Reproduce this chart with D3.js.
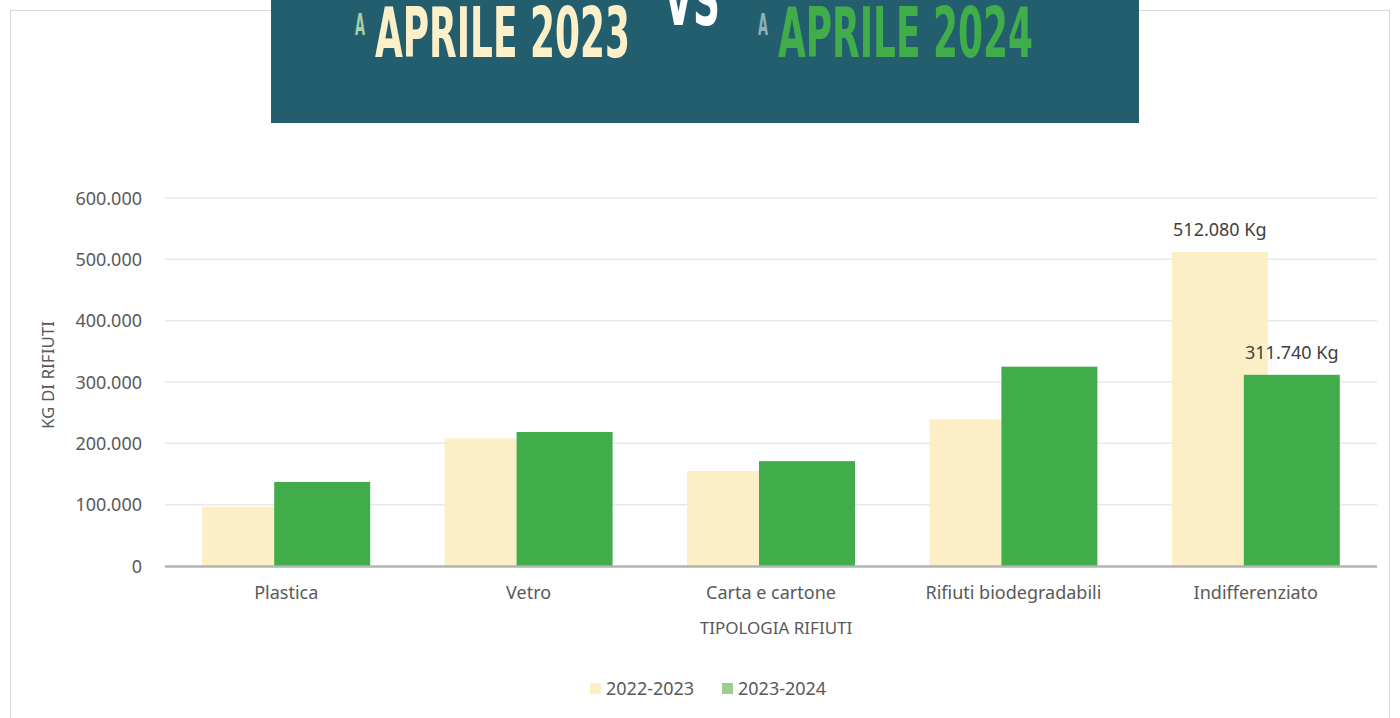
<!DOCTYPE html>
<html>
<head>
<meta charset="utf-8">
<script src="https://cdn.jsdelivr.net/npm/d3@7"></script>
<style>
  body { margin: 0; background: #fff; }
  svg { display: block; }
</style>
</head>
<body>
<svg width="1400" height="718"></svg>
<script>
// dati (kg di rifiuti)
const categories = ["Plastica", "Vetro", "Carta e cartone", "Rifiuti biodegradabili", "Indifferenziato"];
const series = ["2022-2023", "2023-2024"];
const values2223 = [96700, 208000, 155000, 239000, 512080];
const values2324 = [137000, 218500, 171000, 325000, 311740];
const yTicks = [0, 100000, 200000, 300000, 400000, 500000, 600000];
const labelled = ["Indifferenziato"]; // solo qui ci sono le etichette

const colors = ["#fcefc6", "#41ad4a"];
const legendColors = ["#fcefc6", "#9ccf8f"];
const textGrey = "#595959";
const font = "'Noto Sans', 'Open Sans', sans-serif";

const it = d3.formatLocale({decimal: ",", thousands: ".", grouping: [3], currency: ["", " €"]});
const fmt = it.format(",");

const margin = {top: 198, left: 165, right: 23, bottom: 152};
const width = 1400, height = 718;

const svg = d3.select("svg");

// cornice del grafico
svg.append("rect")
  .attr("x", 10.5).attr("y", 10.5)
  .attr("width", 1379).attr("height", 720)
  .attr("fill", "#fff")
  .attr("stroke", "#d9d9d9");

const x = d3.scaleBand()
  .domain(categories)
  .range([margin.left, width - margin.right])
  .padding(0);

const y = d3.scaleLinear()
  .domain([0, 600000])
  .range([566, margin.top]);

// griglia
svg.append("g")
  .selectAll("line")
  .data(yTicks.slice(1))
  .join("line")
  .attr("x1", margin.left).attr("x2", width - margin.right)
  .attr("y1", d => y(d)).attr("y2", d => y(d))
  .attr("stroke", "#e9e9e9")
  .attr("stroke-width", 1.5);

// asse y
const yAxis = svg.append("g")
  .attr("transform", "translate(" + (margin.left - 20) + ",0)")
  .call(d3.axisLeft(y).tickValues(yTicks).tickFormat(fmt).tickSize(0));
yAxis.select(".domain").remove();
yAxis.selectAll("text")
  .attr("font-family", font)
  .attr("font-size", 18)
  .attr("fill", textGrey)
  .attr("dy", "0.35em");

// barre
const bw = x.bandwidth() * 0.396;
const overlap = bw * 0.25;
const group = bw * 2 - overlap;

const data = categories.map((c, i) => ({cat: c, v: [values2223[i], values2324[i]]}));

series.forEach((s, si) => {
  svg.append("g")
    .selectAll("rect")
    .data(data)
    .join("rect")
    .attr("x", d => x(d.cat) + x.bandwidth() / 2 - group / 2 + si * (bw - overlap))
    .attr("y", d => y(d.v[si]))
    .attr("width", bw)
    .attr("height", d => y(0) - y(d.v[si]))
    .attr("fill", colors[si]);
});

// etichette dati
series.forEach((s, si) => {
  svg.append("g")
    .selectAll("text")
    .data(data.filter(d => labelled.includes(d.cat)))
    .join("text")
    .attr("x", d => x(d.cat) + x.bandwidth() / 2 - group / 2 + si * (bw - overlap) + bw / 2)
    .attr("y", d => y(d.v[si]) - 16)
    .attr("text-anchor", "middle")
    .attr("font-family", font)
    .attr("font-size", 18)
    .attr("fill", "#404040")
    .text(d => fmt(d.v[si]) + " Kg");
});

// asse x
svg.append("line")
  .attr("x1", margin.left).attr("x2", width - margin.right)
  .attr("y1", y(0) + 0.5).attr("y2", y(0) + 0.5)
  .attr("stroke", "#b3b3b3")
  .attr("stroke-width", 2.5);

const xAxis = svg.append("g")
  .attr("transform", "translate(0," + y(0) + ")")
  .call(d3.axisBottom(x).tickSize(0).tickPadding(20));
xAxis.select(".domain").remove();
xAxis.selectAll("text")
  .attr("font-family", font)
  .attr("font-size", 18)
  .attr("fill", textGrey);

// titoli assi
svg.append("text")
  .attr("transform", "translate(54,375) rotate(-90)")
  .attr("text-anchor", "middle")
  .attr("font-family", font)
  .attr("font-size", 17)
  .attr("fill", textGrey)
  .text("KG DI RIFIUTI");

svg.append("text")
  .attr("x", 776).attr("y", 634)
  .attr("text-anchor", "middle")
  .attr("font-family", font)
  .attr("font-size", 17)
  .attr("fill", textGrey)
  .text("TIPOLOGIA RIFIUTI");

// legenda
const legend = svg.append("g").attr("transform", "translate(590,689)");
const lx = [0, 132];
series.forEach((s, i) => {
  legend.append("rect")
    .attr("x", lx[i]).attr("y", -6)
    .attr("width", 11).attr("height", 11)
    .attr("fill", legendColors[i]);
  legend.append("text")
    .attr("x", lx[i] + 16).attr("y", 0)
    .attr("dy", "0.35em")
    .attr("font-family", font)
    .attr("font-size", 18)
    .attr("fill", textGrey)
    .text(s);
});

// banner in alto
const banner = svg.append("g");
banner.append("rect")
  .attr("x", 271).attr("y", 0)
  .attr("width", 868).attr("height", 123)
  .attr("fill", "#235e6f");

const titleFont = "'Liberation Sans Narrow', 'DejaVu Sans Condensed', sans-serif";
const titleParts = [
  {t: "A", x: 355, y: 35, size: 30, w: 10, c: "#a9cfa6"},
  {t: "APRILE 2023", x: 375, y: 57, size: 70, w: 255, c: "#fdf0c8"},
  {t: "VS", x: 664, y: 25, size: 70, w: 56, c: "#ffffff"},
  {t: "A", x: 758, y: 35, size: 30, w: 10, c: "#8fb1bb"},
  {t: "APRILE 2024", x: 778, y: 57, size: 70, w: 255, c: "#41ad4a"}
];
banner.selectAll("text")
  .data(titleParts)
  .join("text")
  .attr("x", d => d.x).attr("y", d => d.y)
  .attr("font-family", titleFont)
  .attr("font-weight", "bold")
  .attr("font-size", d => d.size)
  .attr("textLength", d => d.w)
  .attr("lengthAdjust", "spacingAndGlyphs")
  .attr("fill", d => d.c)
  .text(d => d.t);
</script>
</body>
</html>
